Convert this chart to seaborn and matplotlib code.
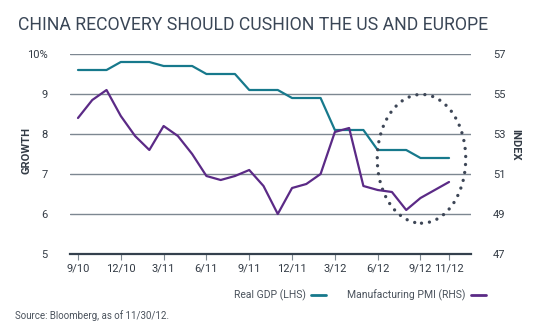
import matplotlib
matplotlib.use("Agg")
import matplotlib.pyplot as plt
from matplotlib.patches import Ellipse
from matplotlib.lines import Line2D
import seaborn as sns
import pandas as pd

# Monthly observations, Sep 2010 .. Nov 2012
months = ["9/10", "10/10", "11/10", "12/10", "1/11", "2/11", "3/11", "4/11", "5/11",
          "6/11", "7/11", "8/11", "9/11", "10/11", "11/11", "12/11", "1/12", "2/12",
          "3/12", "4/12", "5/12", "6/12", "7/12", "8/12", "9/12", "10/12", "11/12"]
real_gdp = [9.6, 9.6, 9.6, 9.8, 9.8, 9.8, 9.7, 9.7, 9.7, 9.5, 9.5, 9.5, 9.1, 9.1, 9.1,
            8.9, 8.9, 8.9, 8.1, 8.1, 8.1, 7.6, 7.6, 7.6, 7.4, 7.4, 7.4]
pmi = [53.8, 54.7, 55.2, 53.9, 52.9, 52.2, 53.4, 52.9, 52.0, 50.9, 50.7, 50.9, 51.2,
       50.4, 49.0, 50.3, 50.5, 51.0, 53.1, 53.3, 50.4, 50.2, 50.1, 49.2, 49.8, 50.2, 50.6]
tick_labels = ["9/10", "12/10", "3/11", "6/11", "9/11", "12/11", "3/12", "6/12", "9/12", "11/12"]
left_ticks = [5, 6, 7, 8, 9, 10]
right_ticks = [47, 49, 51, 53, 55, 57]

TEAL = "#17798c"
PURPLE = "#5b2a86"
TEXT = "#333b45"
GRID = "#7d8791"

sns.set_theme(style="white")
plt.rcParams["font.family"] = ["Roboto", "DejaVu Sans"]

df = pd.DataFrame({"t": range(len(months)), "gdp": real_gdp, "pmi": pmi})

fig = plt.figure(figsize=(5.36, 3.25), dpi=100)
ax = fig.add_axes([70 / 536, 1 - 254 / 325, 401 / 536, 200 / 325])
ax2 = ax.twinx()

sns.lineplot(data=df, x="t", y="gdp", ax=ax, color=TEAL, lw=1.6, zorder=3)
sns.lineplot(data=df, x="t", y="pmi", ax=ax2, color=PURPLE, lw=1.6, zorder=3)

ax.set_xlim(-0.56, 27.54)
ax.set_ylim(5, 10)
ax2.set_ylim(47, 57)

tick_pos = [months.index(m) for m in tick_labels]
ax.set_xticks(tick_pos)
ax.set_xticklabels(tick_labels, fontsize=8, color=TEXT)
ax.set_yticks(left_ticks)
ax.set_yticklabels([str(v) if v < 10 else f"{v}%" for v in left_ticks], fontsize=8, color=TEXT)
ax2.set_yticks(right_ticks)
ax2.set_yticklabels([str(v) for v in right_ticks], fontsize=8, color=TEXT)

ax.grid(axis="y", color=GRID, lw=1.0)
ax.grid(axis="x", visible=False)
ax.set_axisbelow(True)
for a in (ax, ax2):
    for s in ("top", "right", "left", "bottom"):
        a.spines[s].set_visible(False)
ax.spines["bottom"].set_visible(True)
ax.spines["bottom"].set_color("#34404d")
ax.spines["bottom"].set_linewidth(1.6)

ax.tick_params(axis="x", bottom=True, length=4, width=0.8, color=GRID, pad=3)
ax.tick_params(axis="y", left=False, pad=10)
ax2.tick_params(axis="y", right=False, pad=10)

ax.set_xlabel("")
ax.set_ylabel("GROWTH", fontsize=8, fontweight="bold", color=TEXT)
ax.yaxis.set_label_coords(-0.095, 0.515)
ax2.set_ylabel("INDEX", fontsize=8, fontweight="bold", color=TEXT, rotation=-90,
               va="center")
ax2.yaxis.set_label_coords(1.11, 0.545)

# dotted ring around the latest readings
ring = Ellipse((24.07, 7.38), 6.2, 3.22, fill=False, edgecolor="#3d4656", lw=2.4,
               linestyle=(0, (0.01, 2.4)), zorder=4, clip_on=False)
ring.set_capstyle("round")
ax.add_patch(ring)

fig.text(18 / 536, 1 - 25 / 325, "CHINA RECOVERY SHOULD CUSHION THE US AND EUROPE",
         fontsize=12.7, color="#3a4656", va="center", ha="left")

handles = [Line2D([], [], color=TEAL, lw=2), Line2D([], [], color=PURPLE, lw=2)]
fig.legend(handles, ["Real GDP (LHS)", "Manufacturing PMI (RHS)"], loc="center",
           bbox_to_anchor=(360 / 536, 1 - 295 / 325), ncol=2, frameon=False,
           markerfirst=False, fontsize=7.5, handlelength=1.5, handletextpad=0.5,
           columnspacing=2.0, labelcolor="#4a525c")

fig.text(15 / 536, 1 - 316 / 325, "Source: Bloomberg, as of 11/30/12.",
         fontsize=7, color="#4a525c", va="center", ha="left",
         family=["Liberation Sans Narrow", "Roboto", "DejaVu Sans"])

fig.savefig("out.png", dpi=100)
